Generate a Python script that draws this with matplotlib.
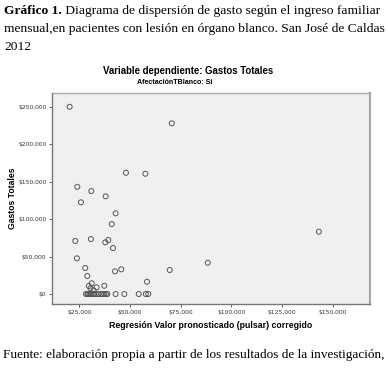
import matplotlib
matplotlib.use("Agg")
import matplotlib.pyplot as plt
from matplotlib.ticker import FuncFormatter

# ------------------- Data -------------------
pred_income = [20200, 70600, 48000, 57600, 24000, 30900, 25800, 38000, 42900,
               41000, 23000, 30700, 37800, 39300, 41600, 23800, 27900, 28900,
               42600, 45700, 69600, 58400, 29700, 31100, 33500, 37300, 30500,
               32000, 88400, 143200,
               28300, 29000, 29400, 30000, 30600, 31000, 31900, 32500, 33200,
               34500, 35800, 36500, 37300, 38100, 38800, 42900, 47200, 54300,
               57800, 59000]
total_spend = [249700, 227600, 161700, 160400, 143000, 137300, 122300, 130300, 107600,
               93300, 70700, 73300, 68900, 72000, 61300, 47600, 34700, 24000,
               30300, 32900, 32000, 16400, 10700, 14300, 8900, 11000, 7500,
               5000, 41700, 83100,
               0, 0, 0, 0, 0, 0, 0, 0, 0,
               0, 0, 0, 0, 0, 0, 0, 0, 0,
               0, 0]

y_ticks = [0, 50000, 100000, 150000, 200000, 250000]
x_ticks = [25000, 50000, 75000, 100000, 125000, 150000]

caption_bold = "Gráfico 1."
caption = [" Diagrama de dispersión de gasto según el ingreso familiar",
           "mensual,en pacientes con lesión en órgano blanco. San José de Caldas",
           "2012"]
footer = "Fuente: elaboración propia a partir de los resultados de la investigación,"

# ------------------- Figure -------------------
fig = plt.figure(figsize=(3.88, 3.76), dpi=100)
fig.patch.set_facecolor("white")

serif = "Liberation Serif"
fs = 9.7
t0 = fig.text(0.010, 0.988, caption_bold, family=serif, weight="bold", fontsize=fs, va="top")
fig.canvas.draw()
bb = t0.get_window_extent().transformed(fig.transFigure.inverted())
fig.text(bb.x1, 0.988, caption[0], family=serif, fontsize=fs, va="top")
fig.text(0.010, 0.939, caption[1], family=serif, fontsize=fs, va="top")
fig.text(0.010, 0.890, caption[2], family=serif, fontsize=fs, va="top")
fig.text(0.008, 0.056, footer, family=serif, fontsize=9.5, va="center")

sans = "Liberation Sans"
fig.text(0.485, 0.812, "Variable dependiente: Gastos Totales", family=sans,
         weight="bold", fontsize=6.9, ha="center", va="center")
fig.text(0.451, 0.781, "AfectaciónTBlanco: Si", family=sans,
         weight="bold", fontsize=5.1, ha="center", va="center")

# ------------------- Scatter -------------------
ax = fig.add_axes([0.134, 0.1915, 0.820, 0.561])
ax.set_facecolor("#f0f0f0")
ax.scatter(pred_income, total_spend, s=13, facecolors="none",
           edgecolors="#555555", linewidths=0.7, zorder=3)

ax.set_xlim(11500, 168500)
ax.set_ylim(-13300, 268000)
ax.set_xticks(x_ticks)
ax.set_yticks(y_ticks)
money = FuncFormatter(lambda v, p: f"${v:,.0f}")
ax.xaxis.set_major_formatter(money)
ax.yaxis.set_major_formatter(money)
ax.tick_params(labelsize=4.3, length=2.5, width=0.6, color="#444444",
               labelcolor="#333333", pad=1.5)

for name, spine in ax.spines.items():
    spine.set_color("#a8a8a8")
    spine.set_linewidth(1.0)
ax.spines["left"].set_color("#777777")
ax.spines["bottom"].set_color("#777777")
ax.spines["right"].set_linewidth(1.6)

ax.set_ylabel("Gastos Totales", family=sans, weight="bold", fontsize=6.2, labelpad=1)
ax.set_xlabel("Regresión Valor pronosticado (pulsar) corregido", family=sans,
              weight="bold", fontsize=6.3, labelpad=5)

plt.savefig("out.png", dpi=100)
